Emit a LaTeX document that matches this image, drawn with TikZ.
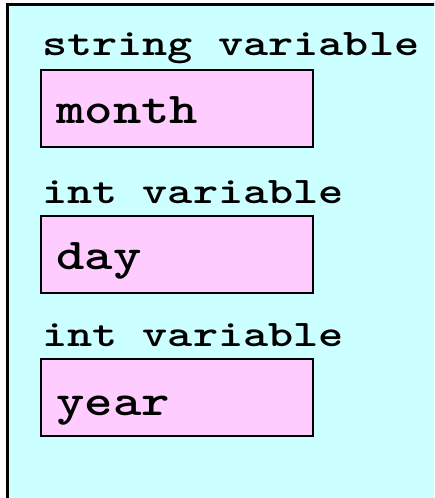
\documentclass[tikz,border=0pt]{standalone}
\usepackage{fontspec}
\usepackage{graphicx}
\definecolor{panelcyan}{HTML}{CCFFFF}
\definecolor{cellpink}{HTML}{FFCCFF}
% wide typewriter lettering for type names and variable names
\newcommand\typeword[1]{\scalebox{1.277}[1]{#1}}
\newcommand\varword[1]{\scalebox{1.23}[1]{#1}}
\begin{document}
\begin{tikzpicture}[x=1pt,y=-1pt,
  typelabel/.style={anchor=base west,inner sep=0pt,
    font=\ttfamily\bfseries\fontsize{37.5}{42}\selectfont},
  varname/.style={anchor=base west,inner sep=0pt,
    font=\ttfamily\bfseries\fontsize{44}{50}\selectfont},
  varcell/.style={draw=black,line width=1.8pt,fill=cellpink,
    anchor=north west,inner sep=0pt,minimum width=272pt,minimum height=77pt}]
  \useasboundingbox (0,0) rectangle (434,498);
  \clip (0,0) rectangle (434,498);
  % outer panel, running off the right and bottom edges
  \draw[line width=3pt,fill=panelcyan] (7.5,4.7) rectangle (445,510);
  % storage cells
  \node[varcell] (v1) at (40,69) {};
  \node[varcell] (v2) at (40,215) {};
  \node[varcell] (v3) at (40,358) {};
  % type labels above each cell
  \node[typelabel] (t1) at (42,55.3) {\typeword{string variable}};
  \node[typelabel] (t2) at (42,203.3) {\typeword{int variable}};
  \node[typelabel] (t3) at (42,346.3) {\typeword{int variable}};
  % variable names inside the cells
  \node[varname] (n1) at (56,123.5) {\varword{month}};
  \node[varname] (n2) at (56,269) {\varword{day}};
  \node[varname] (n3) at (56,415) {\varword{year}};
\end{tikzpicture}
\end{document}
